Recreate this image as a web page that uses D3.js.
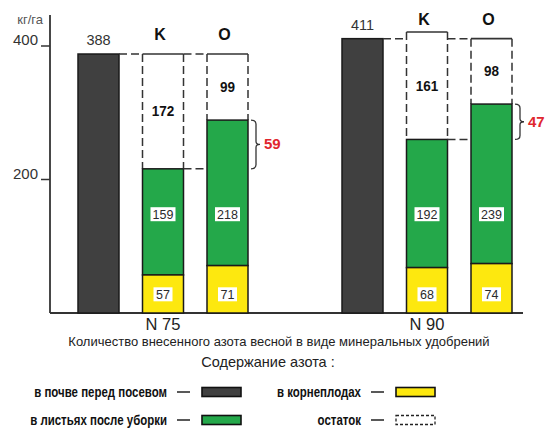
<!DOCTYPE html>
<html>
<head>
<meta charset="utf-8">
<script src="https://cdn.jsdelivr.net/npm/d3@7"></script>
<style>
  html, body { margin: 0; padding: 0; background: #fff; }
  svg { display: block; }
  text { font-family: "Liberation Sans", Arial, sans-serif; }
</style>
</head>
<body>
<svg id="chart" width="549" height="429"></svg>
<script>
// Nitrogen balance of sugar beet, kg/ha, for two spring fertiliser rates
const doses = ["N 75", "N 90"];
const variants = ["K", "O"];
const soilN = [388, 411];                    // in soil before sowing
const rootN = [[57, 71], [68, 74]];          // in roots
const leafN = [[159, 218], [192, 239]];      // in leaves after harvest
const residueN = [[172, 99], [161, 98]];     // remainder
const leafDiff = [59, 47];                   // O vs K, leaves
const yTicks = [200, 400];
const legendItems = [
  { key: "soil", label: "в почве перед посевом" },
  { key: "root", label: "в корнеплодах" },
  { key: "leaf", label: "в листьях после уборки" },
  { key: "rest", label: "остаток" }
];

const colors = { soil: "#404040", leaf: "#24a84a", root: "#fde80f", rest: "#ffffff" };
const ink = "#2b2b2b";

const svg = d3.select("#chart");

const y = d3.scaleLinear().domain([0, 400]).range([313, 46]);
const x0 = d3.scaleBand().domain(doses).range([70, 598]).padding(0);
const x1 = d3.scaleBand().domain(["soil"].concat(variants)).range([8, 178])
  .paddingInner(23.5 / 64.5).paddingOuter(0);
const bw = x1.bandwidth();

// condensed look for bold labels (no narrow face available)
function condense(sel, k) {
  sel.each(function () {
    const w = this.getComputedTextLength();
    d3.select(this).attr("textLength", w * k).attr("lengthAdjust", "spacingAndGlyphs");
  });
}

// axes
const axisX = 50, baseY = y(0);
svg.append("line").attr("x1", axisX).attr("x2", axisX).attr("y1", 15).attr("y2", baseY)
  .attr("stroke", "#333").attr("stroke-width", 1.8);
svg.append("line").attr("x1", axisX).attr("x2", 523).attr("y1", baseY).attr("y2", baseY)
  .attr("stroke", "#333").attr("stroke-width", 1.8);
svg.append("text").attr("x", 43).attr("y", 24).attr("text-anchor", "end")
  .attr("font-size", 13).attr("fill", "#555").text("кг/га");
const ticks = svg.selectAll(".ytick").data(yTicks).enter().append("g");
ticks.append("line").attr("x1", axisX - 9).attr("x2", axisX).attr("y1", d => y(d)).attr("y2", d => y(d))
  .attr("stroke", "#333").attr("stroke-width", 1.5);
ticks.append("text").attr("x", axisX - 12).attr("y", d => y(d) - 1).attr("text-anchor", "end")
  .attr("font-size", 15).attr("fill", "#333").text(d => d);

// white value tag
function tag(g, cx, cy, txt, w) {
  g.append("rect").attr("x", cx - w / 2).attr("y", cy - 7).attr("width", w).attr("height", 14)
    .attr("fill", "#fff");
  g.append("text").attr("x", cx).attr("y", cy + 4.5).attr("text-anchor", "middle")
    .attr("font-size", 12.5).attr("fill", ink).text(txt);
}

doses.forEach((dose, i) => {
  const g = svg.append("g").attr("transform", `translate(${x0(dose)},0)`);
  const xs = x1("soil");

  // soil bar
  g.append("rect").attr("x", xs).attr("y", y(soilN[i])).attr("width", bw)
    .attr("height", baseY - y(soilN[i])).attr("fill", colors.soil)
    .attr("stroke", "#1a1a1a").attr("stroke-width", 1.5);
  g.append("text").attr("x", xs + bw / 2).attr("y", y(soilN[i]) - 9).attr("text-anchor", "middle")
    .attr("font-size", 14.5).attr("fill", "#333").text(soilN[i]);

  // connector from soil level to the first remainder box
  g.append("line").attr("x1", xs + bw).attr("x2", x1(variants[0]))
    .attr("y1", y(soilN[i])).attr("y2", y(soilN[i]))
    .attr("stroke", "#333").attr("stroke-width", 1.5).attr("stroke-dasharray", "8,4");

  variants.forEach((v, j) => {
    const xv = x1(v);
    const r = rootN[i][j], l = leafN[i][j], rest = residueN[i][j];
    const top = r + l + rest;

    // remainder box: solid top, dashed sides
    g.append("line").attr("x1", xv).attr("x2", xv + bw).attr("y1", y(top)).attr("y2", y(top))
      .attr("stroke", "#333").attr("stroke-width", 1.6);
    [xv, xv + bw].forEach(xx => {
      g.append("line").attr("x1", xx).attr("x2", xx).attr("y1", y(top)).attr("y2", y(r + l))
        .attr("stroke", "#333").attr("stroke-width", 1.5).attr("stroke-dasharray", "8,4");
    });
    g.append("text").attr("x", xv + bw / 2).attr("y", (y(top) + y(r + l)) / 2 + 5)
      .attr("text-anchor", "middle").attr("font-size", 15).attr("font-weight", "bold")
      .attr("fill", "#111").text(rest).call(condense, 0.9);

    // leaves
    g.append("rect").attr("x", xv).attr("y", y(r + l)).attr("width", bw)
      .attr("height", y(r) - y(r + l)).attr("fill", colors.leaf)
      .attr("stroke", "#1a1a1a").attr("stroke-width", 1.5);
    // roots
    g.append("rect").attr("x", xv).attr("y", y(r)).attr("width", bw)
      .attr("height", baseY - y(r)).attr("fill", colors.root)
      .attr("stroke", "#1a1a1a").attr("stroke-width", 1.5);

    tag(g, xv + bw / 2, y(148), l, 25);
    tag(g, xv + bw / 2, y(28), r, 19);

    // variant header
    g.append("text").attr("x", xv + bw / 2 - 3).attr("y", y(soilN[i]) - 14)
      .attr("text-anchor", "middle").attr("font-size", 16).attr("font-weight", "bold")
      .attr("fill", "#111").text(v);
  });

  // dashed links between K and O boxes
  const kx = x1(variants[0]) + bw, ox = x1(variants[1]);
  const kTop = rootN[i][0] + leafN[i][0];
  const oTop = rootN[i][1] + leafN[i][1];
  [soilN[i], kTop].forEach(val => {
    g.append("line").attr("x1", kx).attr("x2", ox).attr("y1", y(val)).attr("y2", y(val))
      .attr("stroke", "#333").attr("stroke-width", 1.5).attr("stroke-dasharray", "8,4");
  });

  // brace between K and O leaf levels
  const bx = ox + bw + 3, y1 = y(oTop), y2 = y(kTop), ym = (y1 + y2) / 2;
  g.append("path")
    .attr("d", `M${bx},${y1} Q${bx + 5},${y1} ${bx + 5},${y1 + 4} L${bx + 5},${ym - 3} Q${bx + 5},${ym} ${bx + 9},${ym} ` +
               `Q${bx + 5},${ym} ${bx + 5},${ym + 3} L${bx + 5},${y2 - 4} Q${bx + 5},${y2} ${bx},${y2}`)
    .attr("fill", "none").attr("stroke", "#333").attr("stroke-width", 1.3);
  g.append("text").attr("x", bx + 13).attr("y", ym + 5).attr("font-size", 15).attr("font-weight", "bold")
    .attr("fill", "#e0262e").text(leafDiff[i]);

  // dose label under the K bar
  g.append("text").attr("x", x1(variants[0]) + bw / 2).attr("y", 330).attr("text-anchor", "middle")
    .attr("font-size", 16.5).attr("fill", "#222").text(dose);
});

// captions
svg.append("text").attr("x", 279).attr("y", 346).attr("text-anchor", "middle")
  .attr("font-size", 13).attr("fill", "#222")
  .text("Количество внесенного азота весной в виде минеральных удобрений");
svg.append("text").attr("x", 268).attr("y", 367).attr("text-anchor", "middle")
  .attr("font-size", 14.5).attr("fill", "#222").text("Содержание азота :");

// legend: two columns, two rows
const colEnd = [167, 361];
const rowY = [392, 420];
legendItems.forEach((item, k) => {
  const col = k % 2, row = Math.floor(k / 2);
  const tx = colEnd[col], cy = rowY[row];
  const g = svg.append("g");
  g.append("text").attr("x", tx).attr("y", cy + 5).attr("text-anchor", "end")
    .attr("font-size", 14.5).attr("font-weight", "bold").attr("fill", "#111").text(item.label)
    .call(condense, 0.79);
  g.append("line").attr("x1", tx + 10).attr("x2", tx + 23).attr("y1", cy).attr("y2", cy)
    .attr("stroke", "#222").attr("stroke-width", 1.5);
  g.append("rect").attr("x", tx + 35).attr("y", cy - 4.5).attr("width", 39).attr("height", 9)
    .attr("fill", colors[item.key])
    .attr("stroke", item.key === "rest" ? "#222" : "#111")
    .attr("stroke-width", item.key === "rest" ? 1.3 : 1.6)
    .attr("stroke-dasharray", item.key === "rest" ? "3,2" : null);
});
</script>
</body>
</html>
